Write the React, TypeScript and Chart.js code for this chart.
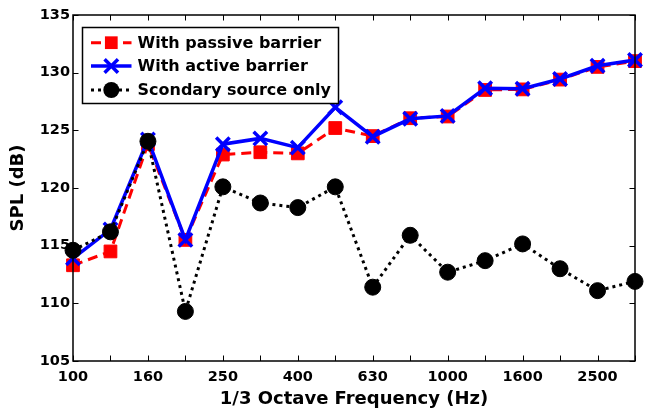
import React, { useEffect, useRef } from 'react';
import { Chart, registerables } from 'chart.js';

Chart.register(...registerables);

const categories = ['100', '125', '160', '200', '250', '315', '400', '500', '630', '800', '1000', '1250', '1600', '2000', '2500', '3150'];
const passiveBarrier = [113.3, 114.5, 123.8, 115.5, 122.9, 123.1, 123.0, 125.2, 124.5, 126.05, 126.2, 128.5, 128.55, 129.4, 130.5, 131.0];
const activeBarrier = [113.9, 116.4, 124.2, 115.5, 123.8, 124.3, 123.5, 127.0, 124.45, 126.0, 126.25, 128.65, 128.6, 129.45, 130.6, 131.1];
const secondaryOnly = [114.6, 116.2, 124.05, 109.3, 120.1, 118.7, 118.3, 120.1, 111.4, 115.9, 112.7, 113.7, 115.15, 113.0, 111.1, 111.9];
const xTickLabels = ['100', '160', '250', '400', '630', '1000', '1600', '2500'];
const yMin = 105;
const yMax = 135;
const yStep = 5;
const seriesNames = ['With passive barrier', 'With active barrier', 'Scondary source only'];
const xTitle = '1/3 Octave Frequency (Hz)';
const yTitle = 'SPL (dB)';

const FONT = '"DejaVu Sans", sans-serif';

type Style = { color: string; dash: number[]; width: number; point: string; radius: number; pw: number };
const styles: Style[] = [
  { color: '#ff0000', dash: [10, 6], width: 3, point: 'rect', radius: 9, pw: 1 },
  { color: '#0000ff', dash: [], width: 3.5, point: 'crossRot', radius: 9.5, pw: 3.5 },
  { color: '#000000', dash: [3, 4], width: 3, point: 'circle', radius: 8, pw: 1 },
];

function drawMarker(ctx: CanvasRenderingContext2D, s: Style, x: number, y: number) {
  ctx.save();
  ctx.setLineDash([]);
  ctx.fillStyle = s.color;
  ctx.strokeStyle = s.color;
  if (s.point === 'rect') {
    const h = s.radius * Math.SQRT1_2;
    ctx.fillRect(x - h, y - h, 2 * h, 2 * h);
  } else if (s.point === 'circle') {
    ctx.beginPath();
    ctx.arc(x, y, s.radius, 0, Math.PI * 2);
    ctx.fill();
  } else {
    const h = s.radius * Math.SQRT1_2;
    ctx.lineWidth = s.pw;
    ctx.beginPath();
    ctx.moveTo(x - h, y - h);
    ctx.lineTo(x + h, y + h);
    ctx.moveTo(x - h, y + h);
    ctx.lineTo(x + h, y - h);
    ctx.stroke();
  }
  ctx.restore();
}

const framePlugin = {
  id: 'frame',
  afterDatasetsDraw(chart: any) {
    const ctx: CanvasRenderingContext2D = chart.ctx;
    const { left, right, top, bottom } = chart.chartArea;
    const xs = chart.scales.x;
    const ys = chart.scales.y;
    ctx.save();
    ctx.strokeStyle = '#000';
    ctx.lineWidth = 1.5;
    ctx.setLineDash([]);
    ctx.strokeRect(left, top, right - left, bottom - top);
    ctx.lineWidth = 1;
    const tl = 5.5;
    ctx.beginPath();
    for (let i = 0; i < categories.length; i++) {
      const x = Math.round(xs.getPixelForValue(i)) + 0.5;
      ctx.moveTo(x, bottom);
      ctx.lineTo(x, bottom - tl);
      ctx.moveTo(x, top);
      ctx.lineTo(x, top + tl);
    }
    for (let v = yMin; v <= yMax; v += yStep) {
      const y = Math.round(ys.getPixelForValue(v)) + 0.5;
      ctx.moveTo(left, y);
      ctx.lineTo(left + tl, y);
      ctx.moveTo(right, y);
      ctx.lineTo(right - tl, y);
    }
    ctx.stroke();

    // legend
    const bx = 82.5, by = 27.5, bw = 256, bh = 76;
    ctx.fillStyle = '#fff';
    ctx.fillRect(bx, by, bw, bh);
    ctx.lineWidth = 1.5;
    ctx.strokeRect(bx, by, bw, bh);
    const rows = [42.7, 66, 90];
    ctx.font = `bold 16px ${FONT}`;
    ctx.textBaseline = 'middle';
    ctx.textAlign = 'left';
    seriesNames.forEach((name, i) => {
      const s = styles[i];
      const y = rows[i];
      ctx.save();
      ctx.strokeStyle = s.color;
      ctx.lineWidth = s.width;
      ctx.setLineDash(s.dash);
      ctx.beginPath();
      ctx.moveTo(91, y);
      ctx.lineTo(131.5, y);
      ctx.stroke();
      ctx.restore();
      drawMarker(ctx, s, 111.3, y);
      ctx.fillStyle = '#000';
      ctx.fillText(name, 137.5, y + 1);
    });
    ctx.restore();
  },
};

export default function App() {
  const ref = useRef<HTMLCanvasElement>(null);
  useEffect(() => {
    if (!ref.current) return;
    const series = [passiveBarrier, activeBarrier, secondaryOnly];
    const chart = new Chart(ref.current, {
      type: 'line',
      data: {
        labels: categories,
        datasets: series.map((d, i) => ({
          label: seriesNames[i],
          data: d,
          borderColor: styles[i].color,
          backgroundColor: styles[i].color,
          borderWidth: styles[i].width,
          borderDash: styles[i].dash,
          pointStyle: styles[i].point as any,
          pointRadius: styles[i].radius,
          pointBorderWidth: styles[i].pw,
          pointBackgroundColor: styles[i].color,
          pointBorderColor: styles[i].color,
          tension: 0,
          fill: false,
          order: 3 - i,
        })),
      },
      options: {
        animation: false,
        responsive: false,
        devicePixelRatio: 1,
        layout: { padding: { top: 15, right: 2, left: 0, bottom: 0 } },
        plugins: { legend: { display: false }, tooltip: { enabled: false } },
        scales: {
          x: {
            type: 'category',
            offset: false,
            grid: { display: false, drawTicks: false },
            border: { display: false },
            ticks: {
              autoSkip: false,
              maxRotation: 0,
              padding: 8,
              color: '#000',
              font: { family: FONT, size: 14.5, weight: 'bold' },
              callback: (_v: any, i: number) => (xTickLabels.includes(categories[i]) ? categories[i] : ''),
            },
            title: {
              display: true,
              text: xTitle,
              color: '#000',
              font: { family: FONT, size: 18, weight: 'bold' },
              padding: { top: 0, bottom: 1 },
            },
            afterFit: (s: any) => { s.height = 50; },
          },
          y: {
            min: yMin,
            max: yMax,
            grid: { display: false, drawTicks: false },
            border: { display: false },
            ticks: {
              stepSize: yStep,
              padding: 3,
              color: '#000',
              font: { family: FONT, size: 14.5, weight: 'bold' },
            },
            title: {
              display: true,
              text: yTitle,
              color: '#000',
              font: { family: FONT, size: 18, weight: 'bold' },
              padding: { top: 8, bottom: 0 },
            },
            afterFit: (s: any) => { s.width = 73; },
          },
        },
      },
      plugins: [framePlugin],
    });
    return () => chart.destroy();
  }, []);
  return (
    <div style={{ position: 'fixed', left: 0, top: 0, width: 648, height: 411, background: '#fff' }}>
      <canvas ref={ref} width={648} height={411} />
    </div>
  );
}
